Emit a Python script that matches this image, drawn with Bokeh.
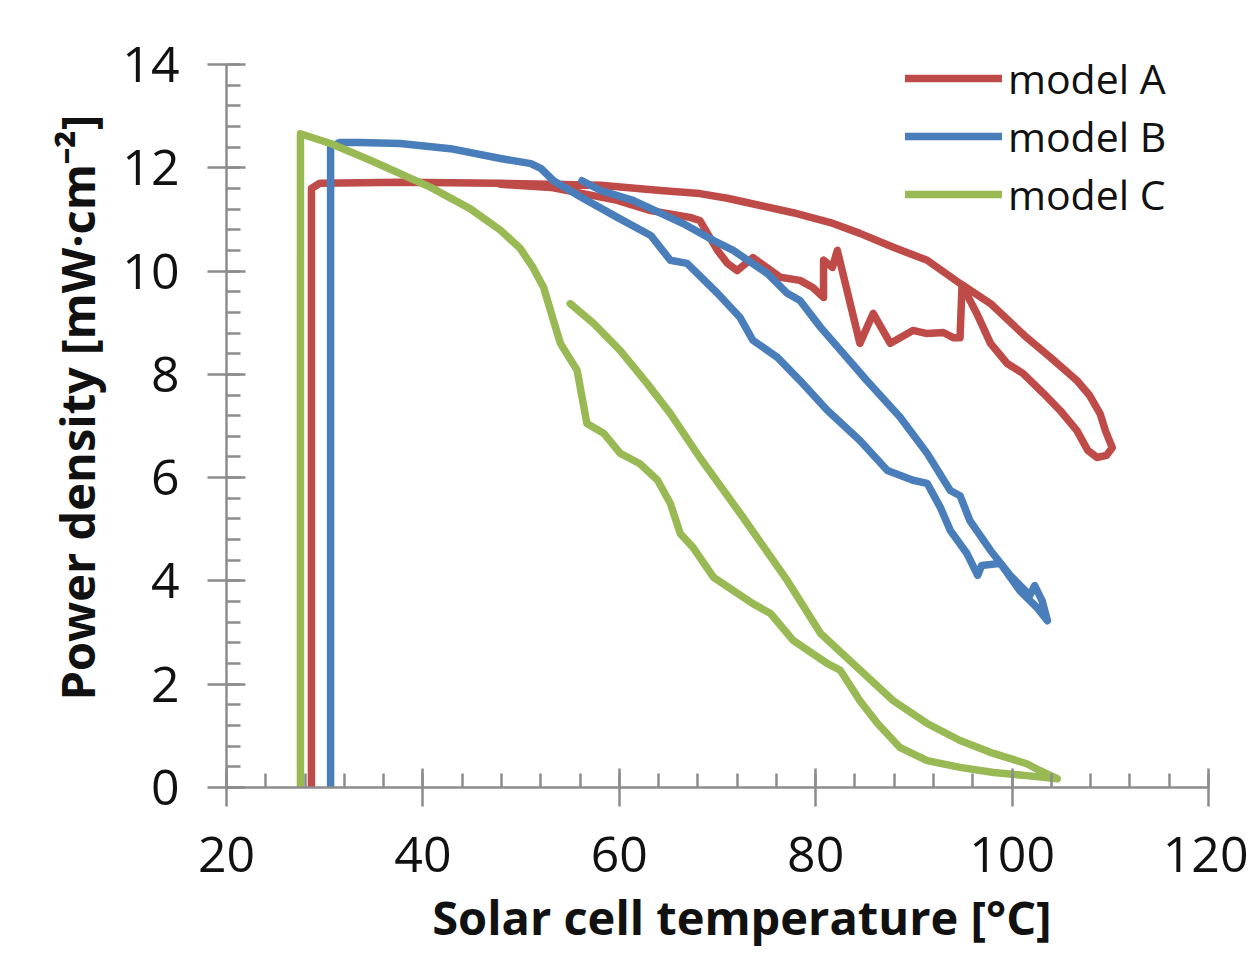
from bokeh.plotting import figure
from bokeh.models import SingleIntervalTicker, Range1d
from bokeh.embed import file_html
from bokeh.resources import INLINE

# ---- data ----
a_x = [28.65, 28.65, 29.5, 37.7, 47.9, 53.0, 58.1, 64.2, 68.2, 71.0, 74.35, 77.7, 81.5, 84.5, 87.9, 91.35,
       94.7, 97.8, 101.5, 103.9, 106.6, 107.9, 108.96, 109.5, 110.2, 109.6, 108.65, 107.7, 106.6, 104.9,
       103.2, 101.1, 99.5, 97.8, 96.4, 95.2, 94.9, 94.7, 94.0, 93.0, 91.35, 89.9, 88.6, 87.6, 85.85, 84.5,
       82.2, 81.7, 80.8, 80.8, 79.7, 78.4, 76.4, 73.6, 72.0, 71.0, 70.0, 68.2, 67.2, 63.2, 59.8, 56.3, 53.0, 47.9]
a_y = [0.0, 11.6, 11.7, 11.72, 11.70, 11.68, 11.66, 11.56, 11.50, 11.41, 11.27, 11.13, 10.94, 10.73, 10.46, 10.21,
       9.76, 9.37, 8.71, 8.33, 7.88, 7.59, 7.24, 6.91, 6.58, 6.43, 6.39, 6.53, 6.91, 7.30,
       7.63, 8.02, 8.21, 8.60, 9.18, 9.62, 9.72, 8.71, 8.71, 8.81, 8.79, 8.85, 8.71, 8.60, 9.18, 8.60,
       10.40, 10.07, 10.21, 9.49, 9.68, 9.82, 9.88, 10.26, 10.01, 10.15, 10.40, 10.98, 11.04, 11.17, 11.37, 11.50, 11.62, 11.68]

b_x = [30.6, 30.6, 31.5, 33.6, 37.7, 42.8, 47.9, 51.0, 52.0, 53.3, 56.3, 59.8, 63.2, 65.2, 66.9, 70.0, 72.3,
       73.6, 76.1, 78.4, 81.2, 84.5, 87.3, 89.9, 91.35, 92.7, 93.7, 95.4, 96.5, 96.9, 98.8, 100.8, 102.5,
       103.6, 103.05, 102.3, 101.8, 99.8, 97.8, 95.7, 94.7, 93.7, 91.35, 88.6, 85.2, 80.5, 78.4, 77.1,
       75.1, 71.6, 69.6, 66.5, 61.4, 58.1, 56.2]
b_y = [0.0, 12.4, 12.49, 12.49, 12.47, 12.37, 12.18, 12.08, 11.99, 11.75, 11.41, 11.04, 10.69, 10.21, 10.15, 9.57, 9.10,
       8.66, 8.33, 7.88, 7.30, 6.72, 6.14, 5.95, 5.89, 5.42, 4.98, 4.53, 4.11, 4.30, 4.34, 3.81, 3.49,
       3.23, 3.62, 3.91, 3.72, 4.11, 4.59, 5.17, 5.65, 5.75, 6.47, 7.17, 7.88, 8.91, 9.43, 9.57,
       9.95, 10.40, 10.59, 10.92, 11.37, 11.56, 11.75]

c_x = [27.53, 27.53, 30.6, 34.7, 40.8, 44.8, 47.9, 49.9, 51.2, 52.3, 53.3, 54.0, 55.7, 56.7, 58.4, 60.1, 62.1,
       63.9, 65.2, 66.2, 67.5, 69.6, 73.6, 75.4, 77.7, 81.2, 82.5, 84.5, 86.3, 88.6, 91.35, 94.7, 98.1,
       101.5, 104.6, 102.8, 101.5, 98.1, 94.7, 91.35, 87.9, 83.8, 80.5, 77.1, 72.3, 68.2, 65.2, 62.85,
       60.1, 57.35, 55.0]
c_y = [0.0, 12.66, 12.47, 12.14, 11.62, 11.21, 10.79, 10.44, 10.07, 9.68, 9.04, 8.60, 8.08, 7.05, 6.86, 6.47, 6.27,
       5.95, 5.50, 4.92, 4.65, 4.07, 3.56, 3.37, 2.85, 2.40, 2.27, 1.68, 1.24, 0.77, 0.52, 0.39, 0.29,
       0.23, 0.17, 0.33, 0.46, 0.66, 0.91, 1.24, 1.68, 2.40, 2.98, 4.01, 5.31, 6.39, 7.24, 7.82,
       8.46, 8.99, 9.37]

series_names = ["model A", "model B", "model C"]
series_colors = ["#BE4B48", "#4A7EBB", "#98B954"]

NB = "\u00a0"
x_title = NB * 4 + "Solar cell temperature [°C]"
y_title = NB * 3 + "Power density [mW·cm⁻²]"

FONT = "Open Sans"

p = figure(width=1248, height=964, output_backend="svg", toolbar_location=None,
           x_range=Range1d(20, 120), y_range=Range1d(0, 14),
           min_border_left=226, min_border_right=40, min_border_top=64, min_border_bottom=177)
p.outline_line_color = None
p.xgrid.visible = False
p.ygrid.visible = False
p.background_fill_color = "white"
p.border_fill_color = "white"

for xs, ys, name, col in zip([a_x, b_x, c_x], [a_y, b_y, c_y], series_names, series_colors):
    p.line(xs, ys, line_color=col, line_width=7.5, line_join="round", line_cap="round", legend_label=name)

p.xaxis.ticker = SingleIntervalTicker(interval=20, num_minor_ticks=5)
p.yaxis.ticker = SingleIntervalTicker(interval=2, num_minor_ticks=5)

for ax in (p.xaxis[0], p.yaxis[0]):
    ax.axis_line_color = "#8C8C8C"
    ax.axis_line_width = 2.5
    ax.major_tick_line_color = "#8C8C8C"
    ax.major_tick_line_width = 2.5
    ax.minor_tick_line_color = "#8C8C8C"
    ax.minor_tick_line_width = 2.5
    ax.major_tick_in = 19
    ax.major_tick_out = 19
    ax.minor_tick_in = 14
    ax.minor_tick_out = 0
    ax.major_label_text_font = FONT
    ax.major_label_text_font_size = "50px"
    ax.major_label_text_color = "#111111"
    ax.axis_label_text_font = FONT
    ax.axis_label_text_font_style = "bold"
    ax.axis_label_text_font_size = "47px"
    ax.axis_label_text_color = "#111111"

p.xaxis.axis_label = x_title
p.yaxis.axis_label = y_title
p.xaxis.major_label_standoff = 30
p.yaxis.major_label_standoff = 28
p.xaxis.axis_label_standoff = 10
p.yaxis.axis_label_standoff = 10

lg = p.legend[0]
lg.location = (679, 564)
lg.orientation = "vertical"
lg.background_fill_alpha = 0
lg.border_line_alpha = 0
lg.padding = 0
lg.margin = 0
lg.spacing = 0
lg.glyph_width = 97
lg.glyph_height = 58
lg.label_height = 58
lg.label_standoff = 6
lg.label_text_font = FONT
lg.label_text_font_size = "41px"
lg.label_text_color = "#111111"

open("out.html", "w").write(file_html(p, INLINE))
